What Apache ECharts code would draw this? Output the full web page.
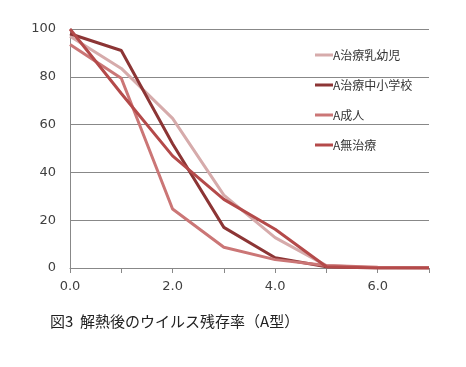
<!DOCTYPE html>
<html><head><meta charset="utf-8">
<script src="https://cdn.jsdelivr.net/npm/echarts@6/dist/echarts.min.js"></script>
<style>html,body{margin:0;padding:0;background:#fff}#c{width:466px;height:367px}</style>
</head><body><div id="c"></div>
<script>
var days = [0, 1, 2, 3, 4, 5, 6, 7];
var seriesNames = ['A治療乳幼児', 'A治療中小学校', 'A成人', 'A無治療'];
var infant = [97, 83.5, 62.6, 30.5, 12.7, 1, 0, 0];
var school = [98, 91, 52, 17, 4.3, 0.5, 0, 0];
var adult = [93.5, 79.4, 24.7, 8.7, 3.5, 1, 0.3, 0];
var untreated = [100, 73, 46.9, 28.7, 16.2, 0.5, 0, 0];
var yTicks = [0, 20, 40, 60, 80, 100];
var xTickLabels = ['0.0', '2.0', '4.0', '6.0'];
var title = '図3  解熱後のウイルス残存率（A型）';
var colors = ['#d6abab', '#8c3535', '#cb7676', '#b44a4a'];

function pairs(arr) { return days.map(function (d, i) { return [d, arr[i]]; }); }
var allData = [infant, school, adult, untreated];

var chart = echarts.init(document.getElementById('c'), null, {renderer: 'canvas'});
chart.setOption({
  animation: false,
  backgroundColor: '#fff',
  color: colors,
  title: {
    text: title, left: 45, top: 309,
    textStyle: {fontFamily: 'Noto Sans CJK JP', fontSize: 15, fontWeight: 'normal', color: '#222'}
  },
  legend: {
    orient: 'vertical', left: 310, top: 44,
    itemWidth: 18, itemHeight: 3, itemGap: 18, icon: 'rect',
    textStyle: {fontFamily: 'Noto Sans CJK JP', fontSize: 12, color: '#333', padding: [0, 0, 0, -5]},
    data: seriesNames
  },
  grid: {left: 70, right: 37, top: 29, bottom: 99, containLabel: false},
  xAxis: {
    type: 'value', min: 0, max: 7, interval: 1,
    axisLine: {show: true, lineStyle: {color: '#888', width: 1}},
    axisTick: {show: true, length: 5, lineStyle: {color: '#888'}},
    splitLine: {show: false},
    axisLabel: {
      fontFamily: 'DejaVu Sans', fontSize: 13, color: '#404040', margin: 12,
      formatter: function (v) {
        var s = v.toFixed(1);
        return xTickLabels.indexOf(s) >= 0 ? s : '';
      }
    }
  },
  yAxis: {
    type: 'value', min: yTicks[0], max: yTicks[yTicks.length - 1], interval: 20,
    axisLine: {show: true, lineStyle: {color: '#888', width: 1}},
    axisTick: {show: false},
    splitLine: {show: true, lineStyle: {color: '#888', width: 1}},
    axisLabel: {fontFamily: 'DejaVu Sans', fontSize: 13, color: '#404040', margin: 14}
  },
  series: seriesNames.map(function (n, i) {
    return {
      name: n, type: 'line', data: pairs(allData[i]),
      showSymbol: false, symbol: 'none',
      lineStyle: {width: 3, color: colors[i]},
      itemStyle: {color: colors[i]}
    };
  })
});
</script></body></html>
